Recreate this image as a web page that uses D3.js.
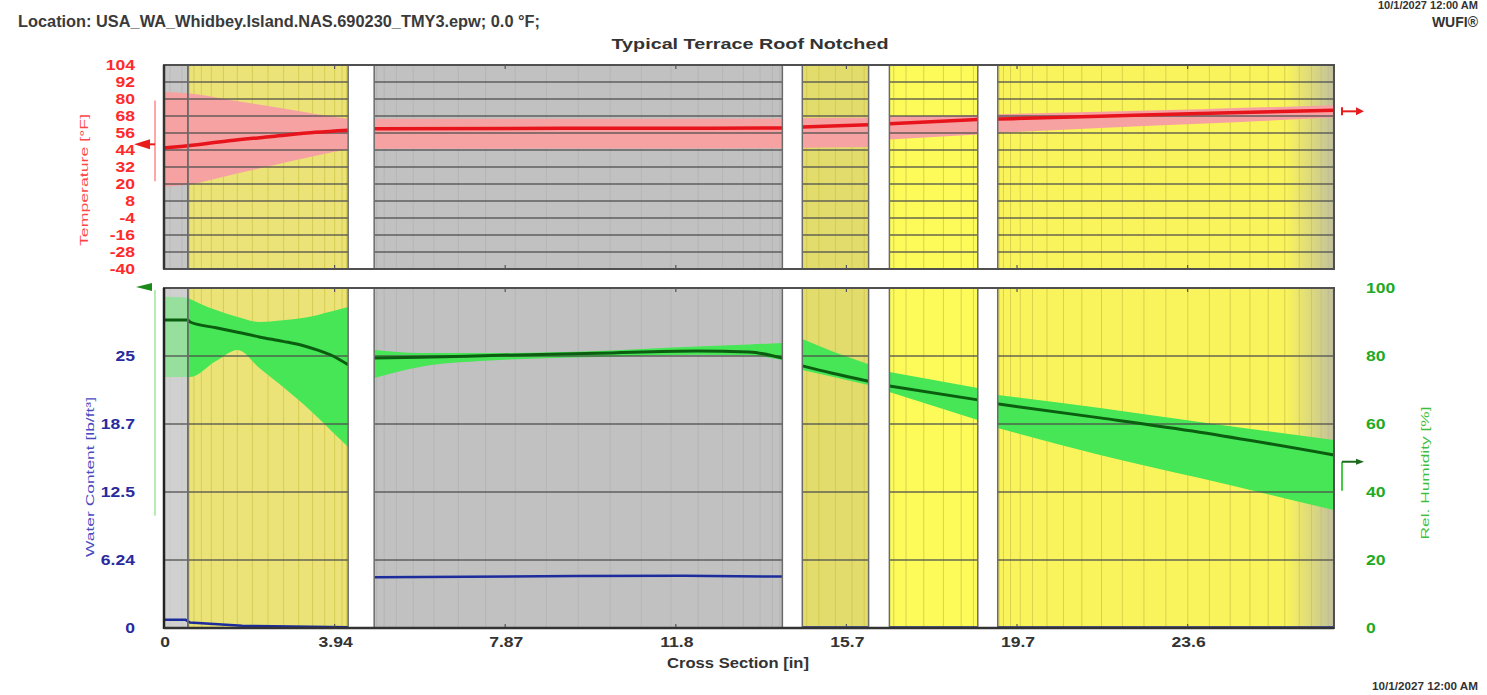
<!DOCTYPE html>
<html><head><meta charset="utf-8">
<script src="https://cdn.jsdelivr.net/npm/d3@7"></script>
<style>body{margin:0;background:#fff;} svg{display:block;font-family:"Liberation Sans",Arial,sans-serif;}</style>
</head><body><svg id="c" width="1487" height="695"></svg>
<script>
// ---------- DATA ----------
const xTickValues = [0, 3.937, 7.874, 11.811, 15.748, 19.685, 23.622];
const xTickLabels = ["0", "3.94", "7.87", "11.8", "15.7", "19.7", "23.6"];
const tempTicks = [104, 92, 80, 68, 56, 44, 32, 20, 8, -4, -16, -28, -40];
const wcTicks = [0, 6.24, 12.48, 18.72, 24.96];
const wcTickLabels = ["0", "6.24", "12.5", "18.7", "25"];
const rhTicks = [0, 20, 40, 60, 80, 100];

// material layers [in]
const layerStart = [0, 0.55, 4.85, 14.73, 16.74, 19.24];
const layerEnd   = [0.55, 4.25, 14.27, 16.26, 18.78, 27.0];
const layerMaterial = ["membrane", "insulation", "concrete", "board", "insulation", "insulation"];

// temperature profile [°F] (null = air gap)
const tX   = [0, 0.55, 1.5, 2.5, 3.5, 4.25, null, 4.85, 9.5, 14.27, null, 14.73, 16.26, null, 16.74, 18.78, null, 19.24, 21.6, 23.9, 27.0];
const tMid = [45.5, 47, 50.5, 53.5, 56.5, 58, null, 59, 59.3, 59.5, null, 60.2, 61.8, null, 62.5, 65.5, null, 65.8, 67.8, 69.8, 72];
const tMax = [85, 84, 79.5, 74.5, 69.5, 66, null, 66, 66, 66.2, null, 66.6, 67, null, 67.8, 68.5, null, 69.2, 71, 72.8, 75.6];
const tMin = [18, 19.5, 26, 33, 40, 44.5, null, 44.8, 45, 45.2, null, 45.6, 46.2, null, 51.5, 55, null, 56, 59.5, 62.5, 67];

// relative humidity profile [%]
const rhX   = [0, 0.55, 0.6, 1.2, 1.7, 2.2, 2.75, 3.2, 3.53, 3.9, 4.25, null, 4.85, 5.9, 7.75, 10.0, 12.3, 13.5, 14.27, null, 14.73, 15.4, 16.26, null, 16.74, 18.78, null, 19.24, 21.6, 23.9, 27.0];
const rhMid = [90.6, 90.6, 90.0, 88.3, 87.0, 85.6, 84.3, 83.1, 81.8, 80.0, 77.4, null, 79.4, 79.6, 80.2, 80.8, 81.5, 81.2, 79.4, null, 77.1, 75.0, 72.6, null, 71.2, 67.1, null, 65.9, 61.8, 57.6, 50.9];
const rhMax = [97.4, 97.1, 96.8, 93.5, 91.5, 90.0, 90.5, 91.2, 92.0, 93.2, 94.4, null, 81.8, 80.9, 80.9, 81.5, 82.8, 83.4, 83.8, null, 85.0, 81.5, 77.6, null, 75.3, 70.6, null, 68.5, 64.7, 60.6, 55.3];
const rhMin = [73.8, 73.8, 73.8, 78.5, 81.8, 76.5, 70.9, 66.0, 62.1, 57.5, 53.2, null, 73.5, 76.8, 78.8, 79.7, 80.4, 80.2, 78.8, null, 75.9, 74.0, 71.5, null, 69.4, 61.2, null, 58.8, 50.9, 44.1, 34.7];

// water content profile [lb/ft³]
const wcX   = [0, 0.5, 0.6, 1.8, 4.25, null, 4.85, 7.0, 9.5, 12.0, 14.27, null, 14.73, 16.26, null, 16.74, 18.78, null, 19.24, 27.0];
const wcVal = [0.75, 0.75, 0.5, 0.2, 0.08, null, 4.65, 4.7, 4.78, 4.8, 4.72, null, 0.05, 0.05, null, 0.05, 0.05, null, 0.05, 0.05];

// ---------- STYLE ----------
const materialFill = {membrane: "#c6c6c6", insulation: "#ebe377", concrete: "#c1c1c1", board: "#e2dc6c"};
const layerFillOverride = [null, null, null, null, "#fcfb5a", "#f9f35c"];
const meshCount = [3, 16, 20, 6, 7, 24];

const svg = d3.select("#c");
const X0 = 164, X1 = 1334, TT = 65, TB = 269, BT = 288, BB = 628;
const x = d3.scaleLinear().domain([0, 27.0]).range([X0, X1]);
const yT = d3.scaleLinear().domain([-40, 104]).range([TB, TT]);
const yRH = d3.scaleLinear().domain([0, 100]).range([BB, BT]);
const yWC = d3.scaleLinear().domain([0, 31.2]).range([BB, BT]);

const defs = svg.append("defs");
const grad = defs.append("linearGradient").attr("id", "fade").attr("x1", "0").attr("x2", "1").attr("y1", "0").attr("y2", "0");
grad.append("stop").attr("offset", "0").attr("stop-color", "#b8b8a8").attr("stop-opacity", 0);
grad.append("stop").attr("offset", "1").attr("stop-color", "#b8b8a8").attr("stop-opacity", 0.85);

const panels = [{t: TT, b: TB}, {t: BT, b: BB}];
const fillOf = i => layerFillOverride[i] || materialFill[layerMaterial[i]];

panels.forEach(p => {
  const g = svg.append("g");
  g.selectAll("rect.layer").data(layerStart).join("rect")
    .attr("x", d => x(d)).attr("width", (d, i) => x(layerEnd[i]) - x(d))
    .attr("y", p.t).attr("height", p.b - p.t).attr("fill", (d, i) => fillOf(i));
  layerStart.forEach((s, i) => {
    const n = meshCount[i];
    const pos = d3.range(1, n).map(k => s + (layerEnd[i] - s) * (0.5 - 0.5 * Math.cos(Math.PI * k / n)));
    const gray = layerMaterial[i] === "membrane" || layerMaterial[i] === "concrete";
    g.selectAll(null).data(pos).join("line")
      .attr("x1", d => x(d)).attr("x2", d => x(d)).attr("y1", p.t).attr("y2", p.b)
      .attr("stroke", gray ? "#a9a9a9" : "#cfc54a").attr("stroke-opacity", gray ? 0.45 : 0.75).attr("stroke-width", 1);
  });
  g.append("rect").attr("x", x(25.9)).attr("width", x(27.0) - x(25.9)).attr("y", p.t).attr("height", p.b - p.t).attr("fill", "url(#fade)");
});

const zip3 = (xs, a, b, c) => xs.map((v, i) => ({x: v, a: a[i], b: b[i], c: c ? c[i] : null}));

// ---------- TOP PANEL: temperature ----------
const tData = zip3(tX, tMid, tMax, tMin);
svg.append("path").datum(tData)
  .attr("d", d3.area().defined(d => d.x !== null).x(d => x(d.x)).y0(d => yT(d.c)).y1(d => yT(d.b)).curve(d3.curveMonotoneX))
  .attr("fill", "#f6a2a2");
svg.append("g").selectAll("line").data(tempTicks.slice(1, -1)).join("line")
  .attr("x1", X0).attr("x2", X1).attr("y1", d => yT(d)).attr("y2", d => yT(d))
  .attr("stroke", "#4d4d4d").attr("stroke-width", 1.7).attr("stroke-opacity", 0.85);
svg.append("path").datum(tData)
  .attr("d", d3.line().defined(d => d.x !== null).x(d => x(d.x)).y(d => yT(d.a)).curve(d3.curveMonotoneX))
  .attr("fill", "none").attr("stroke", "#e8141c").attr("stroke-width", 3.5);

// ---------- BOTTOM PANEL: RH + water content ----------
const rhData = zip3(rhX, rhMid, rhMax, rhMin);
svg.append("path").datum(rhData)
  .attr("d", d3.area().defined(d => d.x !== null).x(d => x(d.x)).y0(d => yRH(d.c)).y1(d => yRH(d.b)).curve(d3.curveMonotoneX))
  .attr("fill", "#46e656");
svg.append("rect").attr("x", x(0)).attr("width", x(layerEnd[0]) - x(0)).attr("y", BT).attr("height", BB - BT)
  .attr("fill", "#d8d8d8").attr("fill-opacity", 0.55);
svg.append("g").selectAll("line").data(rhTicks.slice(1, -1)).join("line")
  .attr("x1", X0).attr("x2", X1).attr("y1", d => yRH(d)).attr("y2", d => yRH(d))
  .attr("stroke", "#4d4d4d").attr("stroke-width", 1.7).attr("stroke-opacity", 0.85);
svg.append("path").datum(rhData)
  .attr("d", d3.line().defined(d => d.x !== null).x(d => x(d.x)).y(d => yRH(d.a)).curve(d3.curveMonotoneX))
  .attr("fill", "none").attr("stroke", "#0b5e10").attr("stroke-width", 3);
const wcData = wcX.map((v, i) => ({x: v, a: wcVal[i]}));
svg.append("path").datum(wcData)
  .attr("d", d3.line().defined(d => d.x !== null).x(d => x(d.x)).y(d => yWC(d.a)))
  .attr("fill", "none").attr("stroke", "#1c2c9c").attr("stroke-width", 2.5);

// ---------- air gaps, layer edges, frames ----------
const gaps = layerStart.slice(1).map((s, i) => [layerEnd[i], s]).filter(g => g[1] - g[0] > 0.01);
panels.forEach(p => {
  svg.append("g").selectAll("rect").data(gaps).join("rect")
    .attr("x", d => x(d[0])).attr("width", d => x(d[1]) - x(d[0]))
    .attr("y", p.t).attr("height", p.b - p.t).attr("fill", "#fff");
  const edges = [];
  layerStart.forEach((s, i) => { edges.push(s); edges.push(layerEnd[i]); });
  svg.append("g").selectAll("line").data(edges.filter(e => e > 0 && e < 27)).join("line")
    .attr("x1", d => x(d)).attr("x2", d => x(d)).attr("y1", p.t).attr("y2", p.b)
    .attr("stroke", "#6a6a6a").attr("stroke-width", 1.5);
  svg.append("rect").attr("x", X0).attr("y", p.t).attr("width", X1 - X0).attr("height", p.b - p.t)
    .attr("fill", "none").attr("stroke", "#505050").attr("stroke-width", 2);
  svg.append("g").selectAll("line").data(xTickValues.slice(1)).join("line")
    .attr("x1", d => x(d)).attr("x2", d => x(d)).attr("y1", p.t).attr("y2", p.t + 4)
    .attr("stroke", "#555").attr("stroke-width", 1.2);
  svg.append("g").selectAll("line").data(xTickValues.slice(1)).join("line")
    .attr("x1", d => x(d)).attr("x2", d => x(d)).attr("y1", p.b - 4).attr("y2", p.b)
    .attr("stroke", "#555").attr("stroke-width", 1.2);
});
svg.append("line").attr("x1", X0).attr("x2", X0).attr("y1", BT).attr("y2", BB + 1).attr("stroke", "#222").attr("stroke-width", 2.5);
svg.append("line").attr("x1", X0).attr("x2", X1).attr("y1", BB).attr("y2", BB).attr("stroke", "#333").attr("stroke-width", 2.5);
svg.append("line").attr("x1", X0).attr("x2", X0).attr("y1", TT).attr("y2", TB).attr("stroke", "#333").attr("stroke-width", 2.5);

// ---------- axes labels ----------
const SX = 1.17;
const tickLabels = (data, px, py, anchor, col, txt) => svg.append("g")
  .attr("font-size", 15).attr("font-weight", "bold").attr("fill", col)
  .selectAll("text").data(data).join("text")
  .attr("transform", (d, i) => `translate(${px(d, i)},${py(d, i)}) scale(${SX},1)`)
  .attr("dy", "0.36em").attr("text-anchor", anchor).text(txt);
tickLabels(tempTicks, () => 135, d => yT(d), "end", "#ff2a2a", d => d);
tickLabels(wcTicks, () => 135, d => yWC(d), "end", "#2a2aa0", (d, i) => wcTickLabels[i]);
tickLabels(rhTicks, () => 1366, d => yRH(d), "start", "#22aa22", d => d);
tickLabels(xTickValues, d => x(d) + 1, () => 642, "middle", "#333", (d, i) => xTickLabels[i]);

svg.append("text").attr("x", 738).attr("y", 668).attr("text-anchor", "middle")
  .attr("font-size", 15).attr("font-weight", "bold").attr("fill", "#333")
  .attr("textLength", 142).attr("lengthAdjust", "spacingAndGlyphs").text("Cross Section [in]");

const vtitle = (txt, cx, cy, len, col) => svg.append("text")
  .attr("transform", `translate(${cx},${cy}) rotate(-90)`).attr("text-anchor", "middle").attr("dy", "0.35em")
  .attr("font-size", 11).attr("fill", col).attr("textLength", len).attr("lengthAdjust", "spacingAndGlyphs").text(txt);
vtitle("Temperature [°F]", 84, 180, 132, "#ff4646");
vtitle("Water Content [lb/ft³]", 90, 477, 160, "#4a4ac0");
vtitle("Rel. Humidity [%]", 1425, 473, 133, "#3cc03c");

// ---------- headers ----------
svg.append("text").attr("x", 18).attr("y", 27).attr("font-size", 16).attr("font-weight", "bold").attr("fill", "#3a3a3a")
  .attr("textLength", 522).attr("lengthAdjust", "spacingAndGlyphs")
  .text("Location: USA_WA_Whidbey.Island.NAS.690230_TMY3.epw; 0.0 °F;");
svg.append("text").attr("x", 750).attr("y", 49).attr("text-anchor", "middle").attr("font-size", 15.5).attr("font-weight", "bold").attr("fill", "#333")
  .attr("textLength", 277).attr("lengthAdjust", "spacingAndGlyphs").text("Typical Terrace Roof Notched");
svg.append("text").attr("x", 1478).attr("y", 27).attr("text-anchor", "end").attr("font-size", 14).attr("font-weight", "bold").attr("fill", "#333").text("WUFI®");
svg.append("text").attr("x", 1478).attr("y", 8.5).attr("text-anchor", "end").attr("font-size", 10).attr("font-weight", "bold").attr("fill", "#333")
  .attr("textLength", 100).attr("lengthAdjust", "spacingAndGlyphs").text("10/1/2027 12:00 AM");
svg.append("text").attr("x", 1478).attr("y", 690).attr("text-anchor", "end").attr("font-size", 10.5).attr("font-weight", "bold").attr("fill", "#333")
  .attr("textLength", 106).attr("lengthAdjust", "spacingAndGlyphs").text("10/1/2027 12:00 AM");

// ---------- boundary markers ----------
const leftT = tMid[0] + 2.5, rightT = tMid[tMid.length - 1];
svg.append("line").attr("x1", 155).attr("x2", 155).attr("y1", yT(tMax[0] - 6)).attr("y2", yT(tMin[0] + 4)).attr("stroke", "#ff8a8a").attr("stroke-width", 1.5);
svg.append("path").attr("d", `M134,${yT(leftT)} L150,${yT(leftT) - 5} L150,${yT(leftT) + 5} Z`).attr("fill", "#e81c1c");
svg.append("line").attr("x1", 150).attr("x2", 155).attr("y1", yT(leftT)).attr("y2", yT(leftT)).attr("stroke", "#e81c1c").attr("stroke-width", 2);
svg.append("line").attr("x1", 1342).attr("x2", 1358).attr("y1", yT(rightT) + 1).attr("y2", yT(rightT) + 1).attr("stroke", "#e81c1c").attr("stroke-width", 2);
svg.append("line").attr("x1", 1342).attr("x2", 1342).attr("y1", yT(rightT) - 3).attr("y2", yT(rightT) + 5).attr("stroke", "#e81c1c").attr("stroke-width", 2);
svg.append("path").attr("d", `M1356,${yT(rightT) - 3} L1364,${yT(rightT) + 1} L1356,${yT(rightT) + 5} Z`).attr("fill", "#e81c1c");

svg.append("line").attr("x1", 155).attr("x2", 155).attr("y1", BT + 2).attr("y2", yRH(33)).attr("stroke", "#9ee69e").attr("stroke-width", 1.5);
svg.append("path").attr("d", `M136,${BT - 1} L152,${BT - 5} L152,${BT + 3} Z`).attr("fill", "#1a8a1a");
const rRH = rhMid[rhMid.length - 1] - 2;
svg.append("line").attr("x1", 1342).attr("x2", 1342).attr("y1", yRH(rRH)).attr("y2", yRH(rRH - 8.5)).attr("stroke", "#44cc44").attr("stroke-width", 2);
svg.append("line").attr("x1", 1342).attr("x2", 1358).attr("y1", yRH(rRH)).attr("y2", yRH(rRH)).attr("stroke", "#1a6a1a").attr("stroke-width", 2);
svg.append("path").attr("d", `M1356,${yRH(rRH) - 3} L1364,${yRH(rRH)} L1356,${yRH(rRH) + 3} Z`).attr("fill", "#1a6a1a");
</script></body></html>
